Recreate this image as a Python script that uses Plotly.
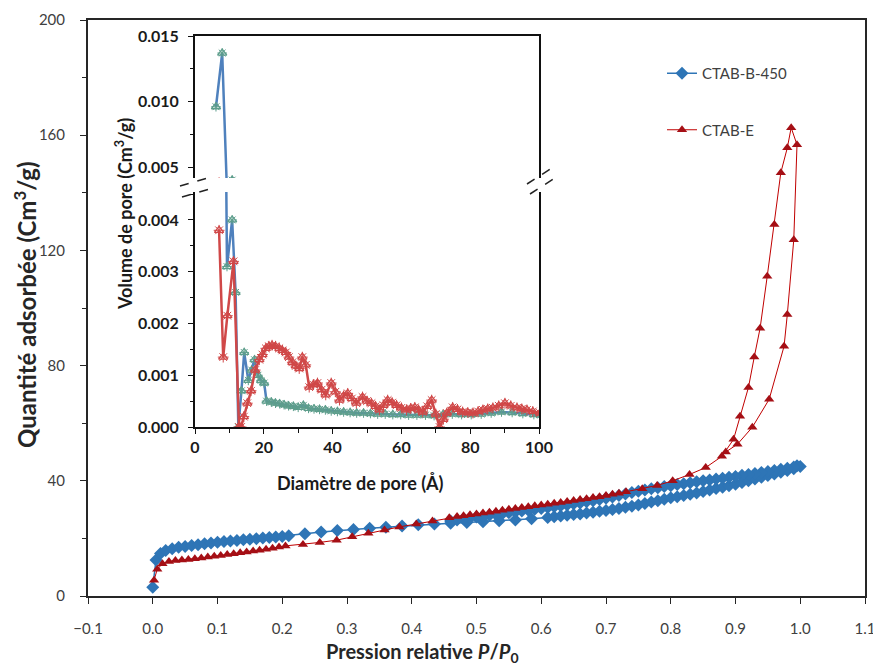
import plotly.graph_objects as go

# ---------------- main isotherm data ----------------
p_b450_ads = [0.000, 0.005, 0.012, 0.020, 0.030, 0.040, 0.050, 0.060, 0.070, 0.080, 0.090, 0.100,
              0.110, 0.120, 0.130, 0.140, 0.150, 0.160, 0.170, 0.180, 0.190, 0.200, 0.210,
              0.235, 0.260, 0.285, 0.310, 0.335, 0.360, 0.385, 0.410, 0.435, 0.460, 0.485,
              0.510, 0.535, 0.560, 0.585, 0.610,
              0.62, 0.63, 0.64, 0.65, 0.66, 0.67, 0.68, 0.69, 0.70, 0.71, 0.72, 0.73, 0.74,
              0.75, 0.76, 0.77, 0.78, 0.79, 0.80, 0.81, 0.82, 0.83, 0.84, 0.85, 0.86, 0.87,
              0.88, 0.89, 0.90, 0.91, 0.92, 0.93, 0.94, 0.95, 0.96, 0.97, 0.98, 0.99, 1.00]
v_b450_ads = [3.0, 12.5, 14.8, 15.8, 16.4, 16.9, 17.2, 17.5, 17.8, 18.1, 18.4, 18.7,
              18.9, 19.1, 19.3, 19.5, 19.7, 19.9, 20.1, 20.3, 20.5, 20.7, 20.9,
              21.6, 22.2, 22.7, 23.1, 23.5, 23.9, 24.3, 24.7, 25.0, 25.3, 25.5,
              25.8, 26.1, 26.4, 26.8, 27.3,
              27.5, 27.8, 28.0, 28.3, 28.5, 28.8, 29.1, 29.4, 29.7, 30.0, 30.4, 30.8, 31.2,
              31.6, 32.1, 32.6, 33.1, 33.6, 34.1, 34.5, 34.9, 35.3, 35.8, 36.3, 36.8, 37.3,
              37.8, 38.3, 38.8, 39.4, 40.0, 40.6, 41.2, 41.8, 42.4, 43.0, 43.6, 44.2, 45.0]
p_b450_des = [0.995, 0.99, 0.98, 0.97, 0.96, 0.95, 0.94, 0.93, 0.92, 0.91, 0.90, 0.89, 0.88,
              0.87, 0.86, 0.85, 0.84, 0.83, 0.82, 0.81, 0.80, 0.79, 0.78, 0.77, 0.76, 0.75,
              0.74, 0.73, 0.72, 0.71, 0.70, 0.69, 0.68, 0.67, 0.66, 0.65, 0.64, 0.63, 0.62,
              0.61, 0.60, 0.59, 0.58, 0.57, 0.56, 0.55, 0.54, 0.53, 0.52, 0.51, 0.50, 0.49,
              0.48, 0.47, 0.46]
v_b450_des = [45.2, 44.8, 44.4, 44.0, 43.6, 43.2, 42.9, 42.5, 42.2, 41.9, 41.5, 41.2, 40.9,
              40.6, 40.3, 40.0, 39.7, 39.3, 39.0, 38.7, 38.3, 38.0, 37.6, 37.2, 36.8, 36.4,
              35.9, 35.4, 34.9, 34.4, 33.9, 33.5, 33.1, 32.7, 32.3, 32.0, 31.6, 31.3, 31.0,
              30.7, 30.4, 30.1, 29.8, 29.5, 29.2, 28.9, 28.6, 28.3, 28.0, 27.7, 27.4, 27.1,
              26.8, 26.4, 26.0]

p_e_ads = [0.002, 0.007, 0.015, 0.025, 0.035, 0.045, 0.055, 0.065, 0.075, 0.085, 0.095, 0.105,
           0.115, 0.125, 0.135, 0.145, 0.155, 0.165, 0.175, 0.185, 0.195, 0.205,
           0.232, 0.258, 0.284, 0.308, 0.333, 0.358, 0.381, 0.407, 0.432, 0.458,
           0.47, 0.48, 0.49, 0.50, 0.51, 0.52, 0.53, 0.54, 0.55, 0.56, 0.57, 0.58, 0.59,
           0.60, 0.61, 0.62, 0.63, 0.64, 0.65, 0.66, 0.67, 0.68, 0.69, 0.70, 0.71, 0.72,
           0.731, 0.756, 0.779, 0.803, 0.829, 0.854, 0.879, 0.897, 0.907, 0.920, 0.929,
           0.938, 0.949, 0.960, 0.970, 0.980, 0.986]
v_e_ads = [5.5, 9.3, 11.2, 12.0, 12.3, 12.5, 12.7, 12.9, 13.2, 13.5, 13.8, 14.1,
           14.4, 14.7, 15.0, 15.3, 15.6, 15.9, 16.2, 16.6, 17.0, 17.4,
           17.9, 18.6, 19.4, 20.6, 21.8, 22.9, 24.0, 25.0, 26.0, 27.2,
           27.6, 27.9, 28.2, 28.5, 28.8, 29.1, 29.4, 29.8, 30.1, 30.4, 30.7, 31.0, 31.3,
           31.6, 31.9, 32.2, 32.5, 32.8, 33.2, 33.5, 33.8, 34.2, 34.5, 34.9, 35.3, 35.7,
           36.2, 37.2, 38.4, 40.0, 42.2, 44.6, 48.5, 54.4, 62.4, 72.4, 83.0,
           93.0, 111.0, 129.0, 147.0, 155.6, 162.6]
p_e_des = [0.995, 0.990, 0.980, 0.975, 0.952, 0.926, 0.903, 0.885]
v_e_des = [156.7, 123.7, 97.7, 86.7, 68.3, 58.6, 52.7, 50.0]

# ---------------- inset (pore size distribution) data ----------------
d_b450 = [6.1, 7.9, 9.3, 10.8, 11.8, 12.6, 13.5, 14.3, 15.5, 16.5, 17.3, 18.3, 19.2, 20.1, 20.8,
          22.2, 23.4, 24.6, 25.9, 27.2, 28.6, 30.0, 31.5, 33.0, 34.6, 36.2, 37.9, 39.6, 41.4,
          43.2, 45.1, 47.0, 49.0, 51.0, 53.1, 55.3, 57.5, 59.8, 62.1, 64.5, 67.0, 69.5, 72.1,
          74.8, 77.5, 80.3, 83.2, 86.1, 89.1, 92.2, 95.3, 98.5, 100.5]
v_b450_pore = [0.0096, 0.0137, 0.0031, 0.0040, 0.0026, 0.0, 0.0007, 0.00144, 0.0009, 0.0011,
               0.0013, 0.0010, 0.0009, 0.00085, 0.00050,
               0.00048, 0.00046, 0.00045, 0.00043, 0.00041, 0.00040, 0.00038, 0.00042, 0.00036,
               0.00035, 0.00034, 0.00033, 0.00031, 0.00030, 0.00029, 0.00028, 0.00027, 0.00027,
               0.00026, 0.00025, 0.00025, 0.00024, 0.00024, 0.00023, 0.00023, 0.00023, 0.00022,
               0.00024, 0.00025, 0.00024, 0.00024, 0.00025, 0.00027, 0.00029, 0.00028, 0.00026,
               0.00024, 0.00023]
d_e = [7.0, 8.2, 9.4, 11.2, 12.8, 13.4, 14.2, 15.2, 16.3, 17.5, 18.7, 19.6, 20.6, 21.5, 22.4,
       23.4, 24.5, 25.4, 26.4, 27.3, 28.3, 29.3, 30.3, 31.2, 32.2, 33.2, 34.4, 35.6, 36.8, 38.0,
       39.6, 40.8, 42.0, 43.2, 44.4, 45.6, 46.9, 48.7, 50.0, 51.3, 52.5, 53.6, 54.8, 56.0, 57.3,
       58.6, 60.0, 61.5, 62.7, 63.9, 65.0, 66.2, 67.5, 68.8, 70.0, 71.1, 72.2, 73.2, 74.9, 76.3,
       77.8, 79.3, 80.8, 82.3, 83.7, 85.1, 86.6, 88.3, 90.1, 91.8, 93.6, 95.0, 96.5, 98.2, 100.3]
v_e_pore = [0.0038, 0.00135, 0.00215, 0.0032, 0.0, 0.0, 0.0002, 0.00046, 0.0007, 0.0011, 0.0013,
            0.0014, 0.00152, 0.00156, 0.00158, 0.00156, 0.00152, 0.00148, 0.00144, 0.00135,
            0.00125, 0.00118, 0.00113, 0.00135, 0.00120, 0.00077, 0.00082, 0.00085, 0.00072,
            0.00062, 0.00085, 0.00068, 0.00052, 0.00060, 0.00065, 0.00055, 0.00046, 0.00058,
            0.00050, 0.00046, 0.00040, 0.00033, 0.00042, 0.00052, 0.00047, 0.00042, 0.00037,
            0.00033, 0.00036, 0.00038, 0.00033, 0.00029, 0.00040, 0.00052, 0.00025, 0.0,
            0.00015, 0.00027, 0.00038, 0.00034, 0.00029, 0.00028, 0.00027, 0.00030, 0.00033,
            0.00035, 0.00037, 0.00041, 0.00046, 0.00041, 0.00037, 0.00035, 0.00033, 0.00030,
            0.00027]

x_ticks_main = [-0.1, 0.0, 0.1, 0.2, 0.3, 0.4, 0.5, 0.6, 0.7, 0.8, 0.9, 1.0, 1.1]

# ---------------- geometry helpers (screen pixel -> paper) ----------------
OFF = 8                      # default page margin of the html body
W, H = 881 - OFF, 666 - OFF
L, R, T, B = 88 - OFF, 16, 20 - OFF, 70
PW, PH = W - L - R, H - T - B


def px(xp):
    return (xp - OFF - L) / PW


def py(yp):
    return (H - B - (yp - OFF)) / PH


BLUE = "#2E75B6"
RED_LINE = "#C00000"
RED_MK = "#A50F15"
TXT = "#404040"
FONT = "Lato"

fig = go.Figure()

# main traces
fig.add_trace(go.Scatter(
    x=p_b450_ads + p_b450_des, y=v_b450_ads + v_b450_des, mode="lines+markers",
    name="CTAB-B-450", legendgroup="a",
    line=dict(color=BLUE, width=1.5),
    marker=dict(symbol="diamond", size=10, color=BLUE),
    xaxis="x", yaxis="y"))
fig.add_trace(go.Scatter(
    x=p_e_ads + p_e_des, y=v_e_ads + v_e_des, mode="lines+markers",
    name="CTAB-E", legendgroup="b",
    line=dict(color=RED_LINE, width=1),
    marker=dict(symbol="triangle-up", size=9, color=RED_MK),
    xaxis="x", yaxis="y"))

# inset traces (lower and upper panels)
IN_BLUE = "#4F81BD"
IN_BLUE_MK = "#5E9E8C"
IN_RED = "#D04848"
for xa, ya in (("x2", "y2"), ("x3", "y3")):
    fig.add_trace(go.Scatter(
        x=d_b450, y=v_b450_pore, mode="lines+markers", showlegend=False,
        line=dict(color=IN_BLUE, width=2.5),
        marker=dict(symbol="triangle-up-open", size=8, color=IN_BLUE_MK, line=dict(width=1.3)),
        xaxis=xa, yaxis=ya))
    fig.add_trace(go.Scatter(
        x=d_b450, y=v_b450_pore, mode="markers", showlegend=False,
        marker=dict(symbol="asterisk-open", size=8, color=IN_BLUE_MK, line=dict(width=1)),
        xaxis=xa, yaxis=ya))
    fig.add_trace(go.Scatter(
        x=d_e, y=v_e_pore, mode="lines+markers", showlegend=False,
        line=dict(color=IN_RED, width=2.5),
        marker=dict(symbol="triangle-up-open", size=8, color=IN_RED, line=dict(width=1.3)),
        xaxis=xa, yaxis=ya))
    fig.add_trace(go.Scatter(
        x=d_e, y=v_e_pore, mode="markers", showlegend=False,
        marker=dict(symbol="asterisk-open", size=9, color=IN_RED, line=dict(width=1)),
        xaxis=xa, yaxis=ya))

tickfont_main = dict(family=FONT, size=15, color=TXT)
tickfont_in = dict(family=FONT, size=16, color="#1a1a1a", weight="bold")

in_x0, in_x1 = px(195), px(539)

fig.update_layout(
    width=W, height=H,
    margin=dict(l=L, r=R, t=T, b=B, autoexpand=False),
    paper_bgcolor="white", plot_bgcolor="white",
    font=dict(family=FONT, color=TXT),
    xaxis=dict(range=[-0.1, 1.1], tickvals=x_ticks_main, tickformat=".1f",
               ticks="outside", ticklen=6, tickcolor="#262626", tickwidth=1,
               ticklabelstandoff=12, automargin=False,
               showline=True, mirror=True, linecolor="#262626", linewidth=2,
               showgrid=False, zeroline=False, tickfont=tickfont_main),
    yaxis=dict(range=[0, 200], dtick=40, tick0=0,
               ticks="outside", ticklen=6, tickcolor="#262626",
               ticklabelstandoff=12, automargin=False,
               minor=dict(dtick=20, ticks="outside", ticklen=4, tickcolor="#262626"),
               showline=True, mirror=True, linecolor="#262626", linewidth=2,
               showgrid=False, zeroline=False, tickfont=tickfont_main),
    # inset lower panel
    xaxis2=dict(domain=[in_x0, in_x1], anchor="y2", range=[0, 100], dtick=20,
                ticks="outside", ticklen=5, tickcolor="#111", automargin=False,
                minor=dict(dtick=10, ticks="outside", ticklen=4, tickcolor="#111"),
                showline=True, mirror=False, linecolor="#111", linewidth=2,
                showgrid=False, zeroline=False, tickfont=tickfont_in),
    yaxis2=dict(domain=[py(427), py(192)], anchor="x2", range=[0, 0.00454],
                dtick=0.001, tick0=0, tickformat=".3f",
                ticks="outside", ticklen=5, tickcolor="#111",
                ticklabelstandoff=6, automargin=False,
                minor=dict(dtick=0.0005, ticks="outside", ticklen=3, tickcolor="#111"),
                showline=True, mirror=True, linecolor="#111", linewidth=2,
                showgrid=False, zeroline=False, tickfont=tickfont_in),
    # inset upper panel
    xaxis3=dict(domain=[in_x0, in_x1], anchor="y3", range=[0, 100], side="top",
                showticklabels=False, ticks="", automargin=False,
                showline=True, mirror=False, linecolor="#111", linewidth=2,
                showgrid=False, zeroline=False),
    yaxis3=dict(domain=[py(178), py(36)], anchor="x3", range=[0.00416, 0.015],
                dtick=0.005, tick0=0, tickformat=".3f",
                ticks="outside", ticklen=5, tickcolor="#111",
                ticklabelstandoff=6, automargin=False,
                minor=dict(dtick=0.0025, ticks="outside", ticklen=3, tickcolor="#111"),
                showline=True, mirror=True, linecolor="#111", linewidth=2,
                showgrid=False, zeroline=False, tickfont=tickfont_in),
    legend=dict(x=px(662), y=py(57), xanchor="left", yanchor="top",
                bgcolor="rgba(0,0,0,0)", font=dict(family=FONT, size=15, color=TXT),
                tracegroupgap=34, traceorder="grouped"),
    showlegend=True,
)

# axis titles as annotations
ann = [
    dict(text="<b>Quantité adsorbée (Cm<sup>3</sup>/g)</b>", x=px(25), y=py(305),
         textangle=-90, font=dict(family=FONT, size=24, color="#262626")),
    dict(text="<b>Pression relative <i>P</i>/<i>P</i><sub>0</sub></b>", x=px(422), y=py(652),
         font=dict(family=FONT, size=20, color="#262626")),
    dict(text="<b>Volume de pore (Cm<sup>3</sup>/g)</b>", x=px(124), y=py(214),
         textangle=-90, font=dict(family=FONT, size=18, color="#1a1a1a")),
    dict(text="<b>Diamètre de pore (Å)</b>", x=px(360), y=py(483),
         font=dict(family=FONT, size=18, color="#1a1a1a")),
]
for a in ann:
    a.update(xref="paper", yref="paper", showarrow=False, xanchor="center", yanchor="middle")
fig.update_layout(annotations=ann)

# axis-break marks
breaks = [((180, 186), (208, 178)), ((182, 197), (210, 189)),
          ((527, 184), (555, 166)), ((530, 194), (558, 176))]
shapes = []
for (x0, y0), (x1, y1) in breaks:
    shapes.append(dict(type="line", xref="paper", yref="paper",
                       x0=px(x0), y0=py(y0), x1=px(x1), y1=py(y1),
                       line=dict(color="#222", width=1.5, dash="dash")))
fig.update_layout(shapes=shapes)

fig.write_html("out.html")
